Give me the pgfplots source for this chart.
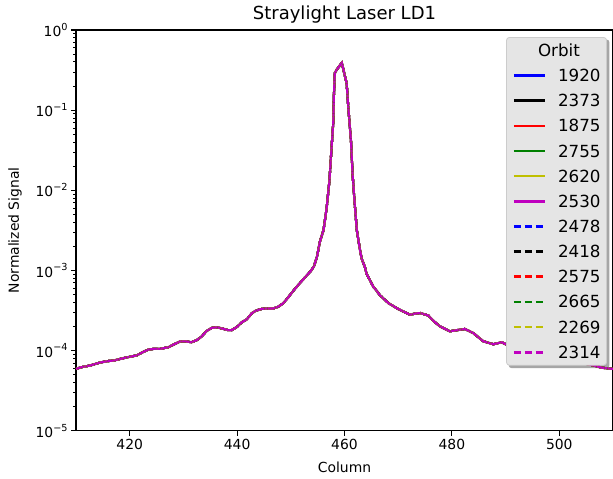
\documentclass[border=0pt]{standalone}
\usepackage{fontspec}
\setmainfont{DejaVu Sans}
\usepackage{pgfplots}
\pgfplotsset{compat=1.18}
\usepackage{pgfplotstable}
\usetikzlibrary{backgrounds}

\pgfplotstableread{
col val
410 5.9e-5
411 6.2e-5
412.6 6.5e-5
414.5 7.1e-5
416 7.4e-5
417 7.5e-5
418 7.8e-5
419.4 8.2e-5
421.3 8.7e-5
422.5 9.6e-5
423.5 1.03e-4
424.5 1.05e-4
425.6 1.05e-4
427.2 1.1e-4
428.3 1.2e-4
429.4 1.3e-4
430.5 1.3e-4
431.5 1.27e-4
432.5 1.35e-4
433.4 1.5e-4
434.3 1.75e-4
435.3 1.92e-4
436.3 1.95e-4
437.4 1.87e-4
438.3 1.8e-4
439.0 1.8e-4
440.0 1.98e-4
440.9 2.26e-4
441.8 2.45e-4
442.7 2.9e-4
443.5 3.15e-4
444.5 3.3e-4
445.5 3.35e-4
446.7 3.35e-4
447.6 3.5e-4
448.6 3.9e-4
449.5 4.6e-4
450.5 5.6e-4
451.4 6.6e-4
452.2 7.6e-4
453.0 8.7e-4
453.7 9.8e-4
454.3 1.12e-3
454.9 1.5e-3
455.4 2.26e-3
456.1 3.2e-3
456.7 6.2e-3
457.2 1.33e-2
457.6 3.5e-2
457.9 6.8e-2
458.06 0.178
458.2 0.29
458.5 0.316
459.5 0.39
460.4 0.216
460.7 0.11
461.2 0.042
461.5 0.016
461.9 6.8e-3
462.3 3.16e-3
462.6 2.37e-3
462.9 1.78e-3
463.2 1.4e-3
463.8 1.1e-3
464.1 9.1e-4
465.4 6.2e-4
465.7 5.9e-4
466.6 4.9e-4
468.2 3.9e-4
470.0 3.3e-4
472.2 2.8e-4
473.2 2.9e-4
474.1 2.94e-4
475.6 2.74e-4
476.7 2.3e-4
477.8 2.0e-4
479.6 1.74e-4
481.0 1.8e-4
482.4 1.86e-4
484.0 1.65e-4
485.8 1.31e-4
487.7 1.2e-4
489.3 1.27e-4
490.0 1.2e-4
491.0 1.18e-4
494.0 1.05e-4
497.0 9.2e-5
500.0 8.3e-5
503.0 7.3e-5
506.0 6.6e-5
508.0 6.1e-5
510.0 5.9e-5
}\datatable

\definecolor{mblue}{rgb}{0,0,1}
\definecolor{mred}{rgb}{1,0,0}
\definecolor{mgreen}{rgb}{0,0.5,0}
\definecolor{myel}{rgb}{0.75,0.75,0}
\definecolor{mmag}{rgb}{0.75,0,0.75}
\definecolor{legfill}{RGB}{229,229,229}
\definecolor{legedge}{RGB}{204,204,204}

\newcommand\tkfont{\fontsize{13.9}{16}\selectfont}
\newcommand\lgfont{\fontsize{16.7}{20}\selectfont}
\newcommand\ttlfont{\fontsize{18}{21}\selectfont}
\newcommand\ex[1]{10\raisebox{0.45em}{\fontsize{9.7}{11}\selectfont #1}}

\begin{document}
\begin{tikzpicture}
\begin{axis}[
  scale only axis, width=537pt, height=400.7pt,
  ymode=log, xmin=410, xmax=510, ymin=1e-5, ymax=1,
  axis line style={line width=1.1pt, black},
  tick align=outside, xtick pos=bottom, ytick pos=left,
  major tick length=4.9pt, minor tick length=2.8pt,
  every tick/.style={line width=1.1pt, black},
  minor tick style={line width=0.8pt, black},
  xtick={420,440,460,480,500},
  minor xtick={},
  ytick={1e-5,1e-4,1e-3,1e-2,1e-1,1},
  yticklabels={\ex{−5},\ex{−4},\ex{−3},\ex{−2},\ex{−1},\ex{0}},
  minor ytick={2e-5,3e-5,4e-5,5e-5,6e-5,7e-5,8e-5,9e-5,
    2e-4,3e-4,4e-4,5e-4,6e-4,7e-4,8e-4,9e-4,
    2e-3,3e-3,4e-3,5e-3,6e-3,7e-3,8e-3,9e-3,
    2e-2,3e-2,4e-2,5e-2,6e-2,7e-2,8e-2,9e-2,
    0.2,0.3,0.4,0.5,0.6,0.7,0.8,0.9},
  ticklabel style={font=\tkfont},
  /pgf/number format/assume math mode=true,
  xlabel={Column}, ylabel={Normalized Signal},
  label style={font=\tkfont},
  xlabel style={at={(axis description cs:0.5,-0.0906)}, anchor=center},
  ylabel style={at={(axis description cs:-0.1136,0.5)}, anchor=center},
  title={Straylight Laser LD1},
  title style={at={(axis description cs:0.5,1.0225)}, anchor=center, font=\ttlfont},
  legend style={
    name=leg,
    at={(0.9888,0.9825)}, anchor=north east,
    fill=legfill, draw=legedge, line width=0.8pt, rounded corners=3pt,
    font=\lgfont,
    inner xsep=6pt, inner ysep=7pt,
    nodes={inner xsep=0pt, inner ysep=0pt, text height=12pt, text depth=0pt},
    row sep=13.15pt, column sep=12pt,
    cells={anchor=west},
  },
  legend image code/.code={\path[#1, rounded corners=0pt, draw=none, fill=none] (0pt,0pt) -- (31pt,0pt); \draw[#1, rounded corners=0pt, line width=2.6pt] (0pt,0pt) -- (31pt,0pt);},
  every axis plot/.append style={line width=2.08pt},
]
\coordinate (bbsw) at (rel axis cs:0,0);
\coordinate (bbne) at (rel axis cs:1,1);
\addlegendimage{empty legend}
\addlegendentry{\hspace*{-20pt}Orbit}
\addplot[mblue, solid] table[x=col,y=val]{\datatable};
\addlegendentry{1920}
\addplot[black, solid] table[x=col,y=val]{\datatable};
\addlegendentry{2373}
\addplot[mred, solid] table[x=col,y=val]{\datatable};
\addlegendentry{1875}
\addplot[mgreen, solid] table[x=col,y=val]{\datatable};
\addlegendentry{2755}
\addplot[myel, solid] table[x=col,y=val]{\datatable};
\addlegendentry{2620}
\addplot[mmag, solid] table[x=col,y=val]{\datatable};
\addlegendentry{2530}
\addplot[mblue, dash pattern=on 7.7pt off 3.3pt] table[x=col,y=val]{\datatable};
\addlegendentry{2478}
\addplot[black, dash pattern=on 7.7pt off 3.3pt] table[x=col,y=val]{\datatable};
\addlegendentry{2418}
\addplot[mred, dash pattern=on 7.7pt off 3.3pt] table[x=col,y=val]{\datatable};
\addlegendentry{2575}
\addplot[mgreen, dash pattern=on 7.7pt off 3.3pt] table[x=col,y=val]{\datatable};
\addlegendentry{2665}
\addplot[myel, dash pattern=on 7.7pt off 3.3pt] table[x=col,y=val]{\datatable};
\addlegendentry{2269}
\addplot[mmag, dash pattern=on 7.7pt off 3.3pt] table[x=col,y=val]{\datatable};
\addlegendentry{2314}
\end{axis}
\begin{scope}[on background layer]
\fill[black!35, rounded corners=3pt] ([xshift=2.5pt,yshift=-2.5pt]leg.south west) rectangle ([xshift=2.5pt,yshift=-2.5pt]leg.north east);
\end{scope}
\pgfresetboundingbox
\path[use as bounding box] ([xshift=-76pt,yshift=-48.3pt]bbsw) rectangle ([yshift=30pt]bbne);
\end{tikzpicture}
\end{document}
